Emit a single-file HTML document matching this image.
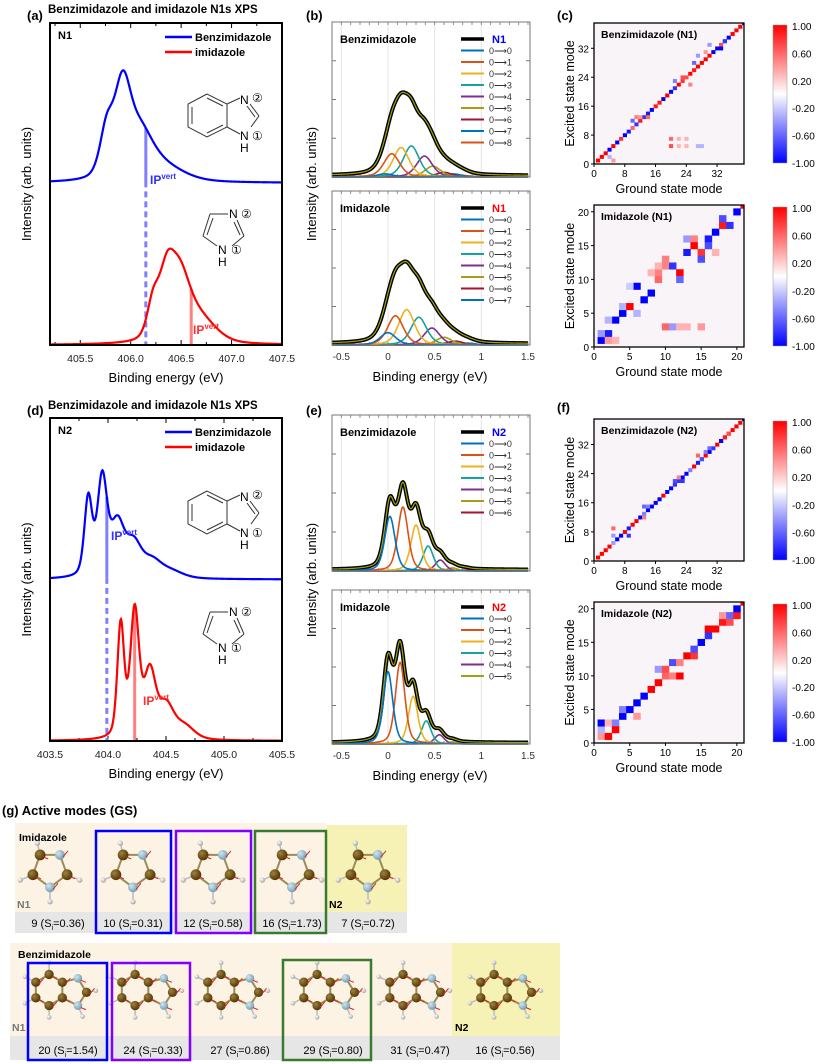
<!DOCTYPE html>
<html><head><meta charset="utf-8"><style>
html,body{margin:0;padding:0;background:#fff;}
svg{display:block;font-family:"Liberation Sans",Arial,sans-serif;}
</style></head><body>
<svg id="fig" width="830" height="1064" viewBox="0 0 830 1064" xmlns="http://www.w3.org/2000/svg">
<defs>
<linearGradient id="cbar" x1="0" y1="1" x2="0" y2="0">
<stop offset="0" stop-color="#0000ff"/><stop offset="0.5" stop-color="#ffffff"/><stop offset="1" stop-color="#ff0000"/>
</linearGradient>
<radialGradient id="cAtom" cx="0.35" cy="0.35" r="0.7"><stop offset="0" stop-color="#a08040"/><stop offset="1" stop-color="#4a3300"/></radialGradient>
<radialGradient id="nAtom" cx="0.35" cy="0.35" r="0.7"><stop offset="0" stop-color="#d0e6f0"/><stop offset="1" stop-color="#6f9ab0"/></radialGradient>
<radialGradient id="hAtom" cx="0.35" cy="0.35" r="0.7"><stop offset="0" stop-color="#ffffff"/><stop offset="1" stop-color="#a0a0a0"/></radialGradient>
</defs>
</svg>
<script>
// ===== DATA =====
const aBlueCenters=[405.76,405.92,406.1,406.3];
const aBlueHeights=[14,28,12,5];
const aBlueWidths=[0.08,0.1,0.14,0.25];
const aBlueBase=50.3;
const aRedCenters=[406.22,406.36,406.5,406.7];
const aRedHeights=[10,20,17,7];
const aRedWidths=[0.07,0.1,0.12,0.18];
const aIPBlue=406.15, aIPRed=406.6;
const dBlueCenters=[403.83,403.95,404.08,404.22,404.38,404.55];
const dBlueHeights=[24,30,16,10,5,2];
const dBlueWidths=[0.04,0.05,0.07,0.08,0.1,0.12];
const dBlueBase=50;
const dRedCenters=[404.11,404.23,404.36,404.5,404.66];
const dRedHeights=[35,39,20,10,4];
const dRedWidths=[0.035,0.045,0.06,0.08,0.1];
const dIPBlue=403.99, dIPRed=404.23;
const bBenzPos=[-0.03,0.04,0.14,0.25,0.39,0.48,0.6,0.7,0.8];
const bBenzH=[2,15,19,20,13.5,7,3,2,1];
const bBenzGain=1.45;
const bImidPos=[0.0,0.08,0.2,0.33,0.47,0.6,0.72,0.85];
const bImidH=[8,19,23,18,11,5,2.5,1.2];
const bImidGain=1.4;
const eBenzPos=[0.02,0.16,0.3,0.43,0.56,0.69,0.82];
const eBenzH=[35,41,29.5,16,7,2,0.6];
const eBenzGain=1.18;
const eImidPos=[0.0,0.13,0.27,0.41,0.55,0.69];
const eImidH=[47,53,31,15,6,1.3];
const eImidGain=1.1;
const compColors=['#0072BD','#D95319','#EDB120','#17A398','#7E2F8E','#A0A010','#A2142F','#0072BD','#D95319'];
const cBenzDiag=[1,1,1,-1,1,-1,0.8,-1,-0.9,0.6,-0.8,0.9,-0.8,-0.9,-1,0.9,0.9,-1,1,-1,-0.8,1,0.8,0.7,1,0.9,1,1,1,1,-1,-1,0.7,-1,-1,1,1,1,-1];
const cBenzOff=[[20,5,0.7],[20,7,0.6],[22,5,0.3],[24,5,0.3],[27,5,-0.3],[28,5,-0.3],[22,7,0.3],[24,7,0.3],[11,13,0.5],[12,13,0.4],[14,13,0.6],[21,23,-0.5],[23,24,0.7],[25,22,0.5],[26,28,-0.6],[27,30,-0.4],[30,33,-0.4],[29,31,0.4],[33,32,-1],[34,34,-0.8],[10,12,-0.6],[4,2,-0.3],[5,1,0.4]];
const cImidEntries=[[1,1,-1],[2,2,-0.9],[1,2,-0.4],[2,1,0.4],[3,1,0.3],[3,4,-1],[2,4,-0.3],[4,5,-1],[4,6,-0.3],[5,6,1],[6,5,-0.3],[6,9,-1],[5,9,-0.2],[7,7,-1],[8,8,-1],[9,10,0.6],[9,11,0.5],[10,12,0.5],[10,3,0.6],[11,12,-0.8],[11,3,-0.4],[12,11,1],[12,10,-0.6],[13,14,-0.9],[13,16,-0.4],[14,16,0.5],[14,15,1],[15,14,0.8],[15,13,-0.7],[16,16,-0.9],[16,15,-0.7],[17,17,-1],[17,14,0.3],[18,18,0.9],[18,19,-0.7],[19,18,-0.8],[20,20,-1],[21,21,1],[12,3,0.3],[15,3,0.4],[13,3,0.3],[8,11,0.3],[9,12,0.3],[10,13,0.5]];
const fBenzDiag=[1,1,1,1,-0.4,-1,-1,1,-0.9,1,1,-1,-0.5,-1,-1,-1,-1,1,-1,-1,-0.8,-0.8,-1,-1,-0.5,1,-0.9,-0.7,1,-1,-0.8,1,-1,1,1,1,1,1,-1];
const fBenzOff=[[5,9,0.6],[5,7,-0.4],[9,7,-0.8],[13,15,-0.6],[14,15,-0.5],[13,12,0.5],[21,22,-0.7],[22,23,0.5],[23,22,-0.8],[27,29,0.6],[28,28,-0.7],[30,31,-0.6],[29,30,-0.5],[33,33,-1],[35,35,0.7],[34,34,0.9]];
const fImidEntries=[[1,1,0.4],[2,1,1],[1,2,-0.3],[1,3,-1],[2,3,0.3],[3,3,-0.5],[3,2,1],[4,4,-1],[4,5,-0.5],[5,5,-1],[6,6,-1],[6,4,0.4],[7,7,-1],[8,8,1],[9,9,1],[9,11,-0.4],[10,10,0.6],[10,11,0.7],[11,12,-0.7],[11,10,0.5],[12,10,1],[12,12,0.5],[13,13,1],[14,13,0.8],[14,14,-0.7],[15,15,-1],[16,16,-0.8],[16,17,1],[17,17,1],[18,18,0.9],[18,19,0.4],[19,18,0.7],[19,19,-0.6],[20,19,0.9],[20,20,-1],[21,21,1]];
const cbTicks=['1.00','0.60','0.20','-0.20','-0.60','-1.00'];
const gImidModes=['9','10','12','16','7'];
const gImidS=['0.36','0.31','0.58','1.73','0.72'];
const gBenzModes=['20','24','27','29','31','16'];
const gBenzS=['1.54','0.33','0.86','0.80','0.47','0.56'];

// ===== HELPERS =====
const NS='http://www.w3.org/2000/svg';
const svg=document.getElementById('fig');
function mk(tag,attrs,parent){const e=document.createElementNS(NS,tag);for(const k in attrs)e.setAttribute(k,attrs[k]);(parent||svg).appendChild(e);return e;}
function txt(x,y,s,opt,parent){const e=mk('text',Object.assign({x:x,y:y},opt||{}),parent);e.textContent=s;return e;}
function lin(d0,d1,r0,r1){return v=>r0+(v-d0)*(r1-r0)/(d1-d0);}
function pv(x,c,w){const t=(x-c)/w;return 0.6*Math.exp(-0.693*t*t)+0.4/(1+t*t);}
function sumPeaks(x,cs,hs,ws){let s=0;for(let i=0;i<cs.length;i++)s+=hs[i]*pv(x,cs[i],ws[i]);return s;}
function pathFrom(fn,x0,x1,step,X,Y){let d='';for(let x=x0;x<=x1+1e-9;x+=step){d+=(d?'L':'M')+X(x).toFixed(2)+','+Y(fn(x)).toFixed(2);}return d;}

let el;
function panelLabel(x,y,s,name){el=txt(x,y,s,{'font-size':13,'font-weight':'bold'});}
panelLabel(27,20,'(a)','panel-a-label');panelLabel(306,20,'(b)','panel-b-label');panelLabel(557,20,'(c)','panel-c-label');
panelLabel(27,415,'(d)','panel-d-label');panelLabel(306,415,'(e)','panel-e-label');panelLabel(557,412,'(f)','panel-f-label');

// ===== Panels (a),(d) =====
function expPanel(o){
  const g=mk('g',{});
  
  
  const X=lin(o.x0,o.x1,50,282), Y=lin(0,100,o.yb,o.yt);
  el=txt(48,o.titleY,'Benzimidazole and imidazole N1s XPS',{'font-size':11.5,'font-weight':'bold'},g);
  
  const k0=Math.ceil(o.x0*4-1e-6), k1=Math.floor(o.x1*4+1e-6);
  for(let k=k0;k<=k1;k++){
    const v=k/4;const x=X(v);const major=(k%2===0);
    const L=major?5:3;
    mk('line',{x1:x,y1:o.yb,x2:x,y2:o.yb-L,stroke:'#000','stroke-width':1},g);
    mk('line',{x1:x,y1:o.yt,x2:x,y2:o.yt+L,stroke:'#000','stroke-width':1},g);
    if(major){el=txt(x,o.yb+17,v.toFixed(1),{'font-size':10.5,'text-anchor':'middle',fill:'#222'},g);}
  }
  el=txt(166,o.yb+37,'Binding energy (eV)',{'font-size':13,'text-anchor':'middle'},g);
  
  el=txt(0,0,'Intensity (arb. units)',{'font-size':13,'text-anchor':'middle',transform:'translate(31,'+((o.yt+o.yb)/2)+') rotate(-90)'},g);
  
  const fb=x=>o.bBase+sumPeaks(x,o.bC,o.bH,o.bW);
  const fr=x=>sumPeaks(x,o.rC,o.rH,o.rW);
  const yBase=Y(o.bBase+0.5);
  el=mk('line',{x1:X(o.ipB),y1:Y(fb(o.ipB)),x2:X(o.ipB),y2:yBase,stroke:'#7f7fff','stroke-width':3},g);
  
  el=mk('line',{x1:X(o.ipB),y1:yBase,x2:X(o.ipB),y2:o.yb,stroke:'#7f7fff','stroke-width':3,'stroke-dasharray':'6,4'},g);
  
  el=mk('line',{x1:X(o.ipR),y1:Y(fr(o.ipR)),x2:X(o.ipR),y2:o.yb,stroke:'#ff8080','stroke-width':3},g);
  
  el=mk('path',{d:pathFrom(fb,o.x0,o.x1,0.004,X,Y),fill:'none',stroke:'#0000ff','stroke-width':2.2},g);
  
  el=mk('path',{d:pathFrom(fr,o.x0,o.x1,0.004,X,Y),fill:'none',stroke:'#ff0000','stroke-width':2.2},g);
  
  el=txt(o.ipBLx,o.ipBLy,'IP',{'font-size':12,'font-weight':'bold',fill:'#3030ff'},g);
  const s1=mk('tspan',{'font-size':8,dy:-5},el);s1.textContent='vert';
  
  el=txt(o.ipRLx,o.ipRLy,'IP',{'font-size':12,'font-weight':'bold',fill:'#ff3030'},g);
  const s2=mk('tspan',{'font-size':8,dy:-5},el);s2.textContent='vert';
  
  el=mk('rect',{x:50,y:o.yt,width:232,height:o.yb-o.yt,fill:'none',stroke:'#000','stroke-width':2},g);
  
  el=txt(58,o.yt+16,o.tag,{'font-size':11,'font-weight':'bold'},g);
  
  mk('line',{x1:165,y1:o.yt+14,x2:192,y2:o.yt+14,stroke:'#0000ff','stroke-width':2.5},g);
  el=txt(195,o.yt+18,'Benzimidazole',{'font-size':11,'font-weight':'bold'},g);
  
  mk('line',{x1:165,y1:o.yt+29,x2:192,y2:o.yt+29,stroke:'#ff0000','stroke-width':2.5},g);
  el=txt(195,o.yt+33,'imidazole',{'font-size':11,'font-weight':'bold'},g);
  
  drawBenzSketch(g,o.benzY);drawImidSketch(g,o.imidY);
}
function drawBenzSketch(g,y0){
  const s=mk('g',{fill:'none',stroke:'#333','stroke-width':1},g);
  
  const P=[[207,y0],[188,y0+10],[188,y0+33],[207,y0+43],[227,y0+33],[227,y0+10]];
  mk('polygon',{points:P.map(p=>p.join(',')).join(' ')},s);
  mk('line',{x1:192,y1:y0+13,x2:192,y2:y0+30},s);mk('line',{x1:207,y1:y0+4,x2:223,y2:y0+12},s);mk('line',{x1:207,y1:y0+39,x2:223,y2:y0+31},s);
  mk('line',{x1:227,y1:y0+10,x2:240,y2:y0+4},s);mk('line',{x1:227,y1:y0+33,x2:240,y2:y0+40},s);
  mk('line',{x1:250,y1:y0+10,x2:259,y2:y0+22},s);mk('line',{x1:247,y1:y0+12,x2:255,y2:y0+23},s);mk('line',{x1:259,y1:y0+22,x2:251,y2:y0+33},s);
  const t=mk('g',{'font-size':12,fill:'#000'},g);
  txt(240,y0+10,'N',{},t);txt(240,y0+46,'N',{},t);txt(240,y0+58,'H',{},t);
  txt(252,y0+8,'②',{'font-size':12},t);txt(252,y0+46,'①',{'font-size':12},t);
}
function drawImidSketch(g,y0){
  const s=mk('g',{fill:'none',stroke:'#333','stroke-width':1},g);
  
  mk('line',{x1:210,y1:y0,x2:228,y2:y0},s);mk('line',{x1:210,y1:y0,x2:203,y2:y0+22},s);mk('line',{x1:213,y1:y0+4,x2:207,y2:y0+21},s);
  mk('line',{x1:203,y1:y0+22,x2:217,y2:y0+32},s);mk('line',{x1:237,y1:y0+6,x2:244,y2:y0+22},s);mk('line',{x1:234,y1:y0+8,x2:240,y2:y0+21},s);mk('line',{x1:244,y1:y0+22,x2:232,y2:y0+32},s);
  const t=mk('g',{'font-size':12,fill:'#000'},g);
  txt(229,y0+4,'N',{},t);txt(218,y0+40,'N',{},t);txt(218,y0+52,'H',{},t);
  txt(241,y0+4,'②',{},t);txt(231,y0+40,'①',{},t);
}
expPanel({name:'panel-a-n1-xps',x0:405.2,x1:407.5,yt:23,yb:345,titleY:13,tag:'N1',bBase:aBlueBase,bC:aBlueCenters,bH:aBlueHeights,bW:aBlueWidths,rC:aRedCenters,rH:aRedHeights,rW:aRedWidths,ipB:aIPBlue,ipR:aIPRed,ipBLx:150,ipBLy:184,ipRLx:193,ipRLy:334,benzY:94,imidY:214});
expPanel({name:'panel-d-n2-xps',x0:403.5,x1:405.5,yt:418,yb:741,titleY:409,tag:'N2',bBase:dBlueBase,bC:dBlueCenters,bH:dBlueHeights,bW:dBlueWidths,rC:dRedCenters,rH:dRedHeights,rW:dRedWidths,ipB:dIPBlue,ipR:dIPRed,ipBLx:111,ipBLy:540,ipRLx:143,ipRLy:705,benzY:491,imidY:612});

// ===== Panels (b),(e) =====
const XB=lin(-0.6,1.5,332,528);
function vibPanel(o){
  const g=mk('g',{});
  
  
  const Y=lin(0,100,o.yb,o.yt);
  [-0.5,0,0.5,1].forEach(v=>{mk('line',{x1:XB(v),y1:o.yt,x2:XB(v),y2:o.yb,stroke:'#e4e4e4','stroke-width':1},g);});
  for(let k=-5;k<=15;k++){const x=XB(k/10);mk('line',{x1:x,y1:o.yt,x2:x,y2:o.yt+3,stroke:'#777','stroke-width':0.8},g);mk('line',{x1:x,y1:o.yb,x2:x,y2:o.yb-3,stroke:'#777','stroke-width':0.8},g);}
  for(let k=0;k<=4;k++){const y=Y(k*25);mk('line',{x1:332,y1:y,x2:336,y2:y,stroke:'#777'},g);mk('line',{x1:530,y1:y,x2:526,y2:y,stroke:'#777'},g);}
  const tot=x=>0.8+o.gain*sumPeaks(x,o.pos,o.h,o.pos.map(()=>o.w));
  el=mk('path',{d:pathFrom(tot,-0.6,1.5,0.005,XB,Y),fill:'none',stroke:'#000','stroke-width':4},g);
  
  el=mk('path',{d:pathFrom(tot,-0.6,1.5,0.005,XB,Y),fill:'none',stroke:'#A0A010','stroke-width':1.2},g);
  
  for(let i=o.pos.length-1;i>=0;i--){
    const f=x=>o.h[i]*pv(x,o.pos[i],o.w);
    el=mk('path',{d:pathFrom(f,-0.6,1.5,0.005,XB,Y),fill:'none',stroke:compColors[i],'stroke-width':1.6},g);
    
  }
  el=mk('rect',{x:332,y:o.yt,width:198,height:o.yb-o.yt,fill:'none',stroke:'#777','stroke-width':1},g);
  
  el=txt(340,o.yt+21,o.title,{'font-size':11,'font-weight':'bold'},g);
  
  const ly=o.yt+17;
  mk('line',{x1:461,y1:ly,x2:484,y2:ly,stroke:'#000','stroke-width':3.5},g);
  el=txt(492,ly+4,o.tag,{'font-size':11,'font-weight':'bold',fill:o.tagColor},g);
  
  for(let i=0;i<o.pos.length;i++){
    const y=ly+11.5*(i+1);
    mk('line',{x1:461,y1:y,x2:484,y2:y,stroke:compColors[i],'stroke-width':2},g);
    el=txt(489,y+3.5,'0\u27F6'+i,{'font-size':9,fill:'#333'},g);
    
  }
  if(o.xlab){
    [-0.5,0,0.5,1,1.5].forEach(v=>{el=txt(XB(v),o.yb+15,String(v),{'font-size':10,'text-anchor':'middle',fill:'#333'},g);});
    el=txt(430,o.yb+36,'Binding energy (eV)',{'font-size':13,'text-anchor':'middle'},g);
    
  }
}
vibPanel({name:'panel-b-benz-n1',yt:22,yb:177,pos:bBenzPos,h:bBenzH,gain:bBenzGain,w:0.1,title:'Benzimidazole',tag:'N1',tagColor:'#0000ff'});
vibPanel({name:'panel-b-imid-n1',yt:191,yb:345,pos:bImidPos,h:bImidH,gain:bImidGain,w:0.1,title:'Imidazole',tag:'N1',tagColor:'#ff0000',xlab:true});
vibPanel({name:'panel-e-benz-n2',yt:415,yb:571,pos:eBenzPos,h:eBenzH,gain:eBenzGain,w:0.065,title:'Benzimidazole',tag:'N2',tagColor:'#0000ff'});
vibPanel({name:'panel-e-imid-n2',yt:590,yb:744,pos:eImidPos,h:eImidH,gain:eImidGain,w:0.06,title:'Imidazole',tag:'N2',tagColor:'#ff0000',xlab:true});
el=txt(0,0,'Intensity (arb. units)',{'font-size':13,'text-anchor':'middle',transform:'translate(316,184) rotate(-90)'});

el=txt(0,0,'Intensity (arb. units)',{'font-size':13,'text-anchor':'middle',transform:'translate(316,580) rotate(-90)'});


// ===== Heatmaps =====
function col(v){v=Math.max(-1,Math.min(1,v));if(v>=0){const c=Math.round(255*(1-v));return 'rgb(255,'+c+','+c+')';}const c=Math.round(255*(1+v));return 'rgb('+c+','+c+',255)';}
function heatmap(o){
  const g=mk('g',{});
  
  
  const X=lin(0,o.n,594,744), Y=lin(0,o.n,o.yb,o.yt);
  const clip=mk('clipPath',{id:'clip-'+o.name},g);mk('rect',{x:594,y:o.yt,width:150,height:o.yb-o.yt},clip);
  const cg=mk('g',{'clip-path':'url(#clip-'+o.name+')'},g);
  mk('rect',{x:594,y:o.yt,width:150,height:o.yb-o.yt,fill:'#f8f4f8'},cg);
  const cw=X(1)-X(0), ch=Y(0)-Y(1);
  o.entries.forEach(e=>{
    el=mk('rect',{x:X(e[0]-0.5),y:Y(e[1]+0.5),width:cw+0.3,height:ch+0.3,fill:col(e[2])},cg);
    
  });
  el=mk('rect',{x:594,y:o.yt,width:150,height:o.yb-o.yt,fill:'none',stroke:'#000','stroke-width':1.3},g);
  
  o.ticks.forEach(t=>{
    mk('line',{x1:X(t),y1:o.yb,x2:X(t),y2:o.yb+3,stroke:'#000'},g);
    mk('line',{x1:594,y1:Y(t),x2:591,y2:Y(t),stroke:'#000'},g);
    el=txt(X(t),o.yb+13,String(t),{'font-size':10,'text-anchor':'middle'},g);
    el=txt(589,Y(t)+4,String(t),{'font-size':10,'text-anchor':'end'},g);
  });
  el=txt(601,o.yt+15,o.title,{'font-size':10.5,'font-weight':'bold'},g);
  
  el=txt(669,o.yb+29,'Ground state mode',{'font-size':12.5,'text-anchor':'middle'},g);
  
  el=txt(0,0,'Excited state mode',{'font-size':12.5,'text-anchor':'middle',transform:'translate(574,'+((o.yt+o.yb)/2)+') rotate(-90)'},g);
  
  el=mk('rect',{x:773,y:o.yt+2,width:14,height:o.yb-o.yt-3,fill:'url(#cbar)',stroke:'#999','stroke-width':0.5},g);
  
  const cbY=lin(0,cbTicks.length-1,o.yt+3,o.yb-1);
  cbTicks.forEach((t,i)=>{el=txt(792,cbY(i)+4,t,{'font-size':10},g);});
}
function diagEntries(d,off){const r=d.map((v,i)=>[i+1,i+1,v]);return r.concat(off);}
heatmap({name:'heatmap-c-benz-n1',n:39,yt:23,yb:164,entries:diagEntries(cBenzDiag,cBenzOff),ticks:[0,8,16,24,32],title:'Benzimidazole (N1)'});
heatmap({name:'heatmap-c-imid-n1',n:21,yt:205,yb:347,entries:cImidEntries,ticks:[0,5,10,15,20],title:'Imidazole (N1)'});
heatmap({name:'heatmap-f-benz-n2',n:39,yt:419,yb:561,entries:diagEntries(fBenzDiag,fBenzOff),ticks:[0,8,16,24,32],title:'Benzimidazole (N2)'});
heatmap({name:'heatmap-f-imid-n2',n:21,yt:602,yb:743,entries:fImidEntries,ticks:[0,5,10,15,20],title:'Imidazole (N2)'});

// ===== Panel (g) =====
el=txt(2,815,'(g)  Active modes (GS)',{'font-size':13,'font-weight':'bold'});

const gg=mk('g',{});


mk('rect',{x:15,y:823,width:311,height:89,fill:'#fcf3e4'},gg);
mk('rect',{x:326,y:825,width:81,height:87,fill:'#f6f1b4'},gg);
mk('rect',{x:15,y:912,width:392,height:21,fill:'#e6e6e6'},gg);
mk('rect',{x:10,y:943,width:442,height:93,fill:'#fcf3e4'},gg);
mk('rect',{x:452,y:943,width:108,height:93,fill:'#f6f1b4'},gg);
mk('rect',{x:10,y:1036,width:550,height:24,fill:'#e6e6e6'},gg);

function atom(g,x,y,t,s){const r=(t==='H'?3:(t==='N'?5.5:6))*s;mk('circle',{cx:x,cy:y,r:r,fill:'url(#'+(t==='C'?'cAtom':t==='N'?'nAtom':'hAtom')+')'},g);}
function molecule(cx,cy,type,name,s){
  const g=mk('g',{},gg);
  
  
  let heavy,H,bonds;
  if(type==='imid'){
    heavy=[[-11,-19,'C'],[11,-19,'N'],[19,3,'C'],[0,17,'N'],[-19,3,'C']];
    H=[[-14,-32,0],[-33,9,4],[33,9,2],[0,33,3]];
    bonds=[[0,1],[1,2],[2,3],[3,4],[4,0]];
  }else{
    const hx=-14;
    heavy=[[hx,-20,'C'],[hx-17,-10,'C'],[hx-17,10,'C'],[hx,20,'C'],[hx+17,10,'C'],[hx+17,-10,'C'],[hx+37,-15,'N'],[hx+48,3,'C'],[hx+37,20,'N']];
    H=[[hx,-35,0],[hx-31,-17,1],[hx-31,17,2],[hx,35,3],[hx+60,1,7],[hx+43,34,8]];
    bonds=[[0,1],[1,2],[2,3],[3,4],[4,5],[5,0],[5,6],[6,7],[7,8],[8,4]];
  }
  const P=heavy.map(a=>[cx+a[0]*s,cy+a[1]*s,a[2]]);
  bonds.forEach(b=>mk('line',{x1:P[b[0]][0],y1:P[b[0]][1],x2:P[b[1]][0],y2:P[b[1]][1],stroke:'#9c8a5a','stroke-width':2},g));
  H.forEach(h=>{const p=P[h[2]];mk('line',{x1:p[0],y1:p[1],x2:cx+h[0]*s,y2:cy+h[1]*s,stroke:'#bbb','stroke-width':1.5},g);});
  H.forEach(h=>atom(g,cx+h[0]*s,cy+h[1]*s,'H',s));
  P.forEach((p,i)=>{atom(g,p[0],p[1],p[2],s);mk('line',{x1:p[0]+3,y1:p[1]+2,x2:p[0]+8,y2:p[1]+(i%2?-4:4),stroke:'#e02020','stroke-width':1},g);});
}
const gImidX=[50,133,213,292,368];
gImidX.forEach((x,i)=>molecule(x,872,'imid','imidazole-mode-'+gImidModes[i],0.9));
const gBenzX=[60,146,232,328,414,505];
gBenzX.forEach((x,i)=>molecule(x,990,'benz','benzimidazole-mode-'+gBenzModes[i],0.78));
el=txt(19,841,'Imidazole',{'font-size':10.5,'font-weight':'bold'},gg);
el=txt(18,958,'Benzimidazole',{'font-size':10.5,'font-weight':'bold'},gg);
el=txt(17,908,'N1',{'font-size':10.5,'font-weight':'bold',fill:'#777'},gg);
el=txt(329,908,'N2',{'font-size':10.5,'font-weight':'bold'},gg);
el=txt(12,1031,'N1',{'font-size':10.5,'font-weight':'bold',fill:'#777'},gg);
el=txt(455,1031,'N2',{'font-size':10.5,'font-weight':'bold'},gg);
function modeLabel(x,y,m,s,name){
  el=txt(x,y,m+' (S',{'font-size':11,'text-anchor':'middle'},gg);
  const sub=mk('tspan',{'font-size':7,dy:3},el);sub.textContent='i';
  const rest=mk('tspan',{dy:-3},el);rest.textContent='='+s+')';
  
}
const gImidLX=[58,133,213,292,368];
gImidModes.forEach((m,i)=>modeLabel(gImidLX[i],927,m,gImidS[i],'imidazole-mode-label'));
const gBenzLX=[68,153,240,333,420,505];
gBenzModes.forEach((m,i)=>modeLabel(gBenzLX[i],1054,m,gBenzS[i],'benzimidazole-mode-label'));
function hbox(x,y,w,h,c,name){el=mk('rect',{x:x,y:y,width:w,height:h,fill:'none',stroke:c,'stroke-width':2.5},gg);}
hbox(96,831,75,102,'#0000ff','highlight-box-blue');hbox(176,831,75,102,'#8000ff','highlight-box-purple');hbox(255,831,71,102,'#3a7a30','highlight-box-green');
hbox(28,963,79,97,'#0000ff','highlight-box-blue');hbox(112,963,78,97,'#8000ff','highlight-box-purple');hbox(283,960,88,100,'#3a7a30','highlight-box-green');
</script>
</body></html>
